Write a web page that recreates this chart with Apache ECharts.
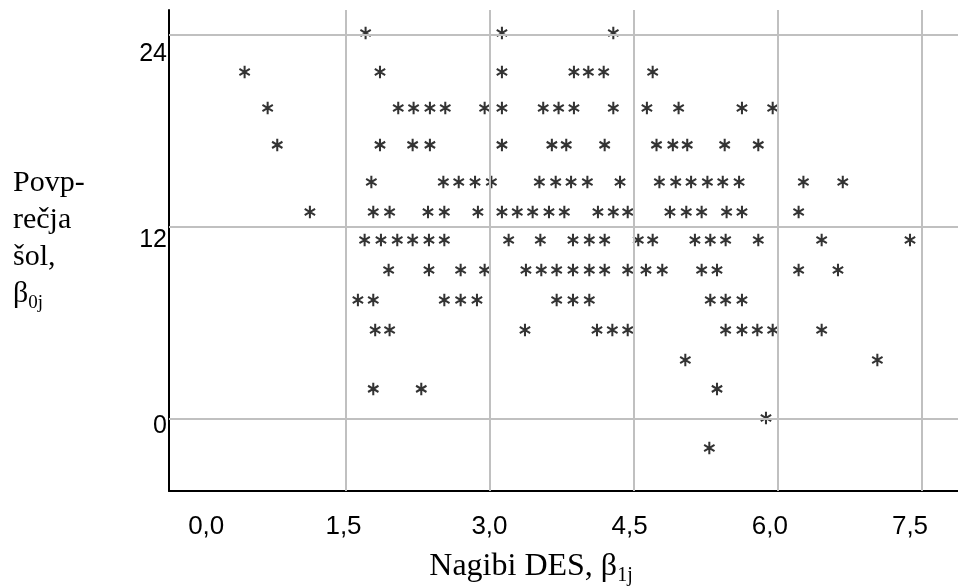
<!DOCTYPE html>
<html>
<head>
<meta charset="utf-8">
<title>Povprečja šol in nagibi DES</title>
<script src="https://cdn.jsdelivr.net/npm/echarts@6/dist/echarts.min.js"></script>
<style>
	html, body { margin: 0; padding: 0; background: #fff; }
	#chart { width: 958px; height: 587px; }
</style>
</head>
<body>
<div id="chart"></div>
<script>
	// vrstice zvezdic: povprečje šole (y) in nagibi DES (x) v vsaki vrstici
	var rowLevels = [24.1, 21.67, 19.42, 17.11, 14.79, 12.92, 11.17, 9.29, 7.42, 5.54, 3.67, 1.86, 0.04, -1.83];
	var rowSlopes = [
		[1.71, 3.13, 4.29],
		[0.45, 1.86, 3.13, 3.88, 4.03, 4.19, 4.70],
		[0.69, 2.05, 2.21, 2.38, 2.54, 2.95, 3.13, 3.56, 3.72, 3.88, 4.29, 4.64, 4.97, 5.63, 5.95],
		[0.79, 1.86, 2.20, 2.38, 3.13, 3.65, 3.80, 4.20, 4.74, 4.91, 5.06, 5.45, 5.80],
		[1.77, 2.52, 2.68, 2.85, 3.02, 3.52, 3.69, 3.85, 4.02, 4.36, 4.77, 4.94, 5.10, 5.27, 5.43, 5.60, 6.27, 6.68],
		[1.13, 1.79, 1.96, 2.36, 2.53, 2.88, 3.13, 3.29, 3.45, 3.62, 3.78, 4.13, 4.29, 4.44, 4.88, 5.05, 5.21, 5.47, 5.63, 6.22],
		[1.70, 1.87, 2.04, 2.20, 2.37, 2.53, 3.20, 3.53, 3.87, 4.04, 4.20, 4.55, 4.70, 5.14, 5.30, 5.46, 5.80, 6.46, 7.38],
		[1.95, 2.37, 2.70, 2.95, 3.38, 3.54, 3.70, 3.87, 4.04, 4.20, 4.44, 4.63, 4.80, 5.21, 5.37, 6.22, 6.63],
		[1.63, 1.79, 2.53, 2.70, 2.87, 3.70, 3.87, 4.04, 5.30, 5.46, 5.63],
		[1.81, 1.96, 3.37, 4.12, 4.28, 4.44, 5.46, 5.63, 5.79, 5.95, 6.46],
		[5.04, 7.04],
		[1.79, 2.29, 5.37],
		[5.88],
		[5.29]
	];

	var xGridValues = [1.5, 3, 4.5, 6, 7.5];
	var xTickLabels = ["0,0", "1,5", "3,0", "4,5", "6,0", "7,5"];
	var yGridValues = [0, 12, 24];
	var yTickLabels = ["0", "12", "24"];

	var points = [];
	rowSlopes.forEach(function (xs, i) {
		xs.forEach(function (x) {
			points.push([x, rowLevels[i]]);
		});
	});

	// zvezdica s šestimi kraki
	var asterisk = "path://M83 0L117 0L117 200L83 200Z" +
		"M178.1 35.3L195.1 64.7L21.9 164.7L4.9 135.3Z" +
		"M4.9 64.7L21.9 35.3L195.1 135.3L178.1 164.7Z";

	var black = "#000";
	var gridColor = "#c0c0c0";

	// v izvirniku oznake ne sedijo čisto na mrežnih črtah
	var xLabelAnchors = [0.05, 1.48, 3.0, 4.46, 5.92, 7.38];
	var yLabelAnchors = [-0.45, 11.15, 22.8];

	function labelAt(anchors, labels) {
		return function (v) {
			var best = 0;
			for (var i = 1; i < anchors.length; i++) {
				if (Math.abs(anchors[i] - v) < Math.abs(anchors[best] - v)) best = i;
			}
			return labels[best];
		};
	}

	var chart = echarts.init(document.getElementById("chart"));

	chart.setOption({
		animation: false,
		grid: { left: 169, right: 0, top: 10, bottom: 96 },
		xAxis: {
			type: "value",
			min: -0.3375,
			max: 7.88,
			axisLine: { show: true, onZero: false, lineStyle: { color: black, width: 2 } },
			axisTick: { show: false },
			splitLine: { show: false },
			axisLabel: {
				customValues: xLabelAnchors,
				formatter: labelAt(xLabelAnchors, xTickLabels),
				color: black,
				fontFamily: "Liberation Sans",
				fontSize: 26,
				margin: 23
			}
		},
		yAxis: {
			type: "value",
			min: -4.52,
			max: 25.54,
			axisLine: { show: true, onZero: false, lineStyle: { color: black, width: 2 } },
			axisTick: { show: false },
			splitLine: { show: false },
			axisLabel: {
				customValues: yLabelAnchors,
				formatter: labelAt(yLabelAnchors, yTickLabels),
				color: black,
				fontFamily: "Liberation Sans",
				fontSize: 25,
				margin: 2
			}
		},
		series: [
			{
				type: "scatter",
				data: [],
				silent: true,
				z: 1,
				markLine: {
					silent: true,
					symbol: "none",
					label: { show: false },
					lineStyle: { color: gridColor, width: 2, type: "solid" },
					data: xGridValues.map(function (v) { return { xAxis: v }; })
						.concat(yGridValues.map(function (v) { return { yAxis: v }; }))
				}
			},
			{
				type: "scatter",
				name: "Šole",
				data: points,
				symbol: asterisk,
				symbolSize: [12, 12.5],
				symbolKeepAspect: true,
				itemStyle: { color: black },
				silent: true,
				z: 3
			}
		],
		graphic: [
			{
				type: "text",
				x: 13,
				y: 165,
				style: {
					text: "Povp-\nrečja\nšol,\nβ{s|0j}",
					fill: black,
					font: "30px 'Liberation Serif'",
					lineHeight: 37,
					align: "left",
					verticalAlign: "top",
					rich: {
						s: { fontSize: 19, fontFamily: "Liberation Serif", fill: black, lineHeight: 22, verticalAlign: "bottom" }
					}
				}
			},
			{
				type: "text",
				x: 531,
				y: 567,
				style: {
					text: "Nagibi DES, β{s|1j}",
					fill: black,
					font: "32px 'Liberation Serif'",
					lineHeight: 37,
					align: "center",
					verticalAlign: "middle",
					rich: {
						s: { fontSize: 20, fontFamily: "Liberation Serif", fill: black, lineHeight: 22, verticalAlign: "bottom" }
					}
				}
			}
		]
	});
</script>
</body>
</html>
